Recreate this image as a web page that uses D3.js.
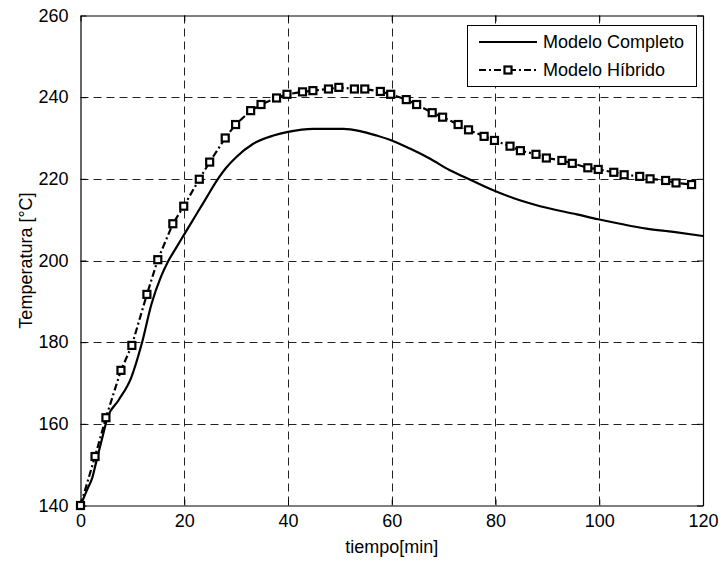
<!DOCTYPE html>
<html>
<head>
<meta charset="utf-8">
<script src="https://cdn.jsdelivr.net/npm/d3@7"></script>
<style>
  body { margin: 0; background: #fff; }
  svg { display: block; }
  text { font-family: "Liberation Sans", Arial, Helvetica, sans-serif; fill: #000; }
</style>
</head>
<body>
<svg id="chart" width="722" height="562"></svg>
<script>
// ---- data ----
const xTicks = [0, 20, 40, 60, 80, 100, 120];
const yTicks = [140, 160, 180, 200, 220, 240, 260];
const seriesNames = ["Modelo Completo", "Modelo Híbrido"];

const completoT = [0, 1.5, 2.2, 3, 4.4, 5.2, 7.3, 9.8, 11.8, 13.7, 15.5, 16.8, 18.2, 20, 22, 24, 26.5, 28, 30, 33.3, 37.2, 40, 44.9, 50.7, 53.9, 57.1, 60, 63.5, 67.4, 71.2, 74.4, 79.9, 83.4, 88.6, 95.7, 99.8, 104, 109.1, 114.3, 120];
const completoV = [140, 144.5, 146.5, 150.5, 157.6, 161.5, 165.7, 171.4, 179.6, 189.4, 196.0, 199.6, 202.6, 206.4, 210.6, 214.8, 220.0, 222.6, 225.3, 228.6, 230.6, 231.5, 232.25, 232.25, 231.7, 230.6, 229.4, 227.4, 224.9, 222.1, 220.2, 217.0, 215.3, 213.3, 211.3, 210.1, 209.0, 207.8, 207.0, 206.0];

const hibridoT = [0, 2.8, 4.9, 7.8, 9.9, 12.8, 14.9, 17.8, 19.9, 22.9, 24.9, 27.9, 29.9, 32.8, 34.8, 37.8, 39.8, 42.8, 44.8, 47.8, 49.8, 52.8, 54.8, 57.8, 59.8, 62.8, 64.8, 67.8, 69.8, 72.8, 74.8, 77.8, 79.8, 82.8, 84.8, 87.8, 89.8, 92.8, 94.8, 97.8, 99.8, 102.8, 104.8, 107.8, 109.8, 112.8, 114.8, 117.8];
const hibridoV = [140, 152.0, 161.5, 173.1, 179.2, 191.7, 200.2, 209.0, 213.3, 219.9, 224.1, 230.0, 233.3, 236.7, 238.2, 239.8, 240.7, 241.3, 241.6, 242.0, 242.4, 242.0, 242.0, 241.4, 240.7, 239.4, 238.2, 236.2, 235.1, 233.3, 232.0, 230.4, 229.4, 228.0, 226.9, 226.0, 225.1, 224.5, 223.8, 222.7, 222.3, 221.6, 221.0, 220.6, 220.0, 219.6, 219.0, 218.6];

const xLabel = "tiempo[min]";
const yLabel = "Temperatura [°C]";

// ---- layout ----
const L = 80.5, R = 703, T = 15.5, B = 505.5;
const svg = d3.select("#chart");
const x = d3.scaleLinear().domain([0, 120]).range([L, R]);
const y = d3.scaleLinear().domain([140, 260]).range([B, T]);
const FS = 18;

svg.append("rect").attr("x", 0).attr("y", 0).attr("width", 722).attr("height", 562).attr("fill", "#fff");

// grid
const grid = svg.append("g");
grid.selectAll("line.gx").data(xTicks.slice(1, -1)).enter().append("line")
  .attr("x1", d => Math.round(x(d)) + 0.5).attr("x2", d => Math.round(x(d)) + 0.5)
  .attr("y1", T).attr("y2", B)
  .attr("stroke", "#222").attr("stroke-width", 1).attr("stroke-dasharray", "8,5");
grid.selectAll("line.gy").data(yTicks.slice(1, -1)).enter().append("line")
  .attr("y1", d => Math.round(y(d)) + 0.5).attr("y2", d => Math.round(y(d)) + 0.5)
  .attr("x1", L).attr("x2", R)
  .attr("stroke", "#222").attr("stroke-width", 1).attr("stroke-dasharray", "8,5");

// axes (inside ticks, box)
const axB = svg.append("g").attr("transform", `translate(0,${B})`)
  .call(d3.axisBottom(x).tickValues(xTicks).tickSizeInner(-6).tickSizeOuter(0).tickPadding(9).tickFormat(d3.format("d")));
const axT = svg.append("g").attr("transform", `translate(0,${T})`)
  .call(d3.axisTop(x).tickValues(xTicks).tickSizeInner(-6).tickSizeOuter(0).tickFormat(""));
const axL = svg.append("g").attr("transform", `translate(${L},0)`)
  .call(d3.axisLeft(y).tickValues(yTicks).tickSizeInner(-6).tickSizeOuter(0).tickPadding(12).tickFormat(d3.format("d")));
const axR = svg.append("g").attr("transform", `translate(${R},0)`)
  .call(d3.axisRight(y).tickValues(yTicks).tickSizeInner(-6).tickSizeOuter(0).tickFormat(""));
[axB, axT, axL, axR].forEach(a => {
  a.selectAll("path.domain").attr("stroke", "#000").attr("stroke-width", 1.2);
  a.selectAll(".tick line").attr("stroke", "#000");
  a.selectAll("text").attr("font-size", FS).attr("font-family", "Liberation Sans, Arial, sans-serif").attr("fill", "#000");
});

// lines
const clipId = "clip";
svg.append("clipPath").attr("id", clipId).append("rect").attr("x", L).attr("y", T - 6).attr("width", R - L).attr("height", B - T + 12);

const completo = completoT.map((t, i) => [t, completoV[i]]);
const hibrido = hibridoT.map((t, i) => [t, hibridoV[i]]);
const line = d3.line().x(d => x(d[0])).y(d => y(d[1]));
const smooth = d3.line().x(d => x(d[0])).y(d => y(d[1])).curve(d3.curveMonotoneX);

svg.append("path").datum(completo).attr("d", smooth)
  .attr("fill", "none").attr("stroke", "#000").attr("stroke-width", 2.2).attr("stroke-linejoin", "round")
  .attr("clip-path", `url(#${clipId})`);

svg.append("path").datum(hibrido).attr("d", line)
  .attr("fill", "none").attr("stroke", "#000").attr("stroke-width", 2.2)
  .attr("stroke-dasharray", "7,3,2,3");

const MS = 7;
svg.append("g").selectAll("rect").data(hibrido).enter().append("rect")
  .attr("x", d => x(d[0]) - MS / 2).attr("y", d => y(d[1]) - MS / 2)
  .attr("width", MS).attr("height", MS)
  .attr("fill", "#fff").attr("stroke", "#000").attr("stroke-width", 2.2);

// axis labels
svg.append("text").attr("x", (L + R) / 2).attr("y", 553).attr("text-anchor", "middle")
  .attr("font-size", FS).text(xLabel);
svg.append("text").attr("transform", `translate(32,${(T + B) / 2}) rotate(-90)`).attr("text-anchor", "middle")
  .attr("font-size", FS).text(yLabel);

// legend
const lg = svg.append("g");
lg.append("rect").attr("x", 467.5).attr("y", 25.5).attr("width", 229).attr("height", 61)
  .attr("fill", "#fff").attr("stroke", "#000").attr("stroke-width", 1);
const rows = [42, 70];
lg.append("line").attr("x1", 479).attr("x2", 537).attr("y1", rows[0]).attr("y2", rows[0])
  .attr("stroke", "#000").attr("stroke-width", 2.2);
lg.append("line").attr("x1", 479).attr("x2", 537).attr("y1", rows[1]).attr("y2", rows[1])
  .attr("stroke", "#000").attr("stroke-width", 2.2).attr("stroke-dasharray", "7,3,2,3");
lg.append("rect").attr("x", 508 - MS / 2).attr("y", rows[1] - MS / 2).attr("width", MS).attr("height", MS)
  .attr("fill", "#fff").attr("stroke", "#000").attr("stroke-width", 2.2);
lg.selectAll("text.lt").data(seriesNames).enter().append("text")
  .attr("x", 543).attr("y", (d, i) => rows[i]).attr("dy", "0.36em")
  .attr("font-size", FS).text(d => d);
</script>
</body>
</html>
